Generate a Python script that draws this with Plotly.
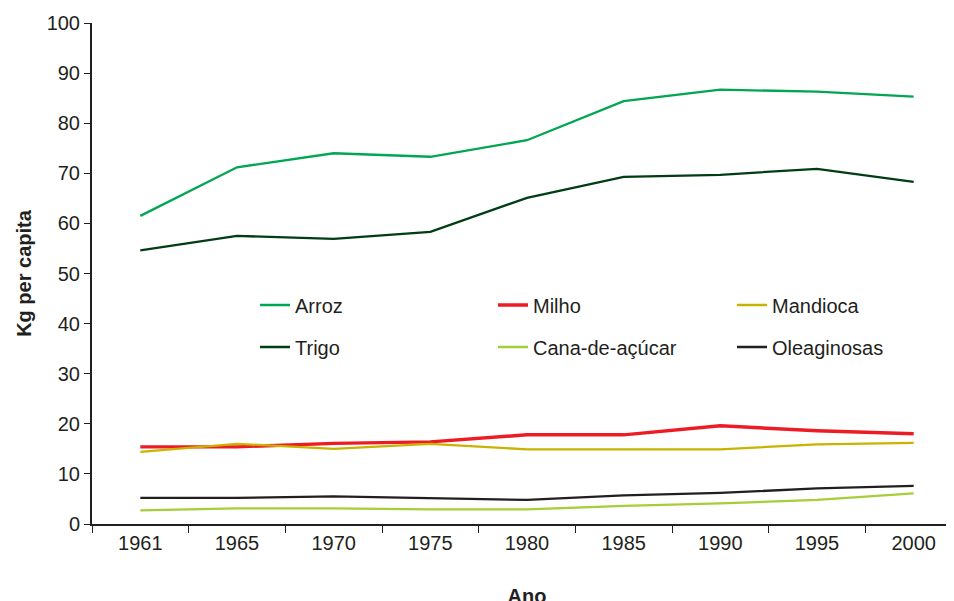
import plotly.graph_objects as go

anos = ["1961", "1965", "1970", "1975", "1980", "1985", "1990", "1995", "2000"]
arroz = [61.5, 71.2, 74.0, 73.3, 76.6, 84.4, 86.7, 86.3, 85.3]
trigo = [54.6, 57.5, 56.9, 58.3, 65.1, 69.3, 69.7, 70.9, 68.3]
milho = [15.4, 15.4, 16.1, 16.4, 17.8, 17.8, 19.6, 18.6, 18.0]
mandioca = [14.4, 16.0, 15.0, 16.0, 14.9, 14.9, 14.9, 15.9, 16.2]
oleaginosas = [5.2, 5.2, 5.5, 5.2, 4.8, 5.7, 6.2, 7.1, 7.6]
cana = [2.7, 3.1, 3.1, 2.9, 2.9, 3.6, 4.1, 4.8, 6.1]

# name, values, colour, width
series = [
    ("Arroz", arroz, "#00a651", 2.3),
    ("Milho", milho, "#ed1c24", 3.4),
    ("Mandioca", mandioca, "#c8b400", 2.3),
    ("Trigo", trigo, "#003d14", 2.3),
    ("Cana-de-açúcar", cana, "#a6ce39", 2.3),
    ("Oleaginosas", oleaginosas, "#231f20", 2.3),
]

# legend grid placement (screen px of item start / row centre)
col_px = [255, 493, 732]
row_px = [305, 347]

PL, PR, PT, PB = 92, 962, 23, 524  # plot area on screen
H = 625
font = "Liberation Sans, Arial, sans-serif"
ink = "#231f20"

fig = go.Figure()
legends = {}
for i, (name, vals, color, w) in enumerate(series):
    key = "legend" if i == 0 else f"legend{i + 1}"
    fig.add_trace(go.Scatter(x=anos, y=vals, name=name, mode="lines",
                             line=dict(color=color, width=w), legend=key))
    cx = col_px[i % 3]
    ry = row_px[i // 3]
    legends[key] = dict(
        x=(cx - PL) / (PR - PL), y=(PB - ry) / (PB - PT),
        xanchor="left", yanchor="middle", borderwidth=0,
        font=dict(family=font, size=20, color=ink),
        bgcolor="rgba(0,0,0,0)",
    )

# page body has an 8px margin: compensate so the plot lands where the reference has it
off = 8
fig.update_layout(
    width=954, height=H,
    margin=dict(l=PL - off, r=0, t=PT - off, b=H - (PB - off)),
    paper_bgcolor="white", plot_bgcolor="white",
    font=dict(family=font, size=20, color=ink),
    showlegend=True,
    xaxis=dict(
        type="category", range=[-0.5, 8.5],
        showline=True, linecolor=ink, linewidth=2,
        ticks="outside", tickson="boundaries", ticklen=7, tickwidth=1.2,
        tickcolor=ink, showgrid=False, zeroline=False,
        tickfont=dict(family=font, size=20, color=ink),
        title=dict(text="<b>Ano</b>", standoff=36,
                   font=dict(family=font, size=20, color=ink)),
    ),
    yaxis=dict(
        range=[0, 100], tickvals=list(range(0, 101, 10)),
        showline=True, linecolor=ink, linewidth=2,
        ticks="outside", ticklen=6, tickwidth=1.2, tickcolor=ink,
        showgrid=False, zeroline=False,
        tickfont=dict(family=font, size=20, color=ink),
        title=dict(text="<b>Kg per capita</b>", standoff=10,
                   font=dict(family=font, size=20, color=ink)),
    ),
    **legends,
)

fig.write_html("out.html")
